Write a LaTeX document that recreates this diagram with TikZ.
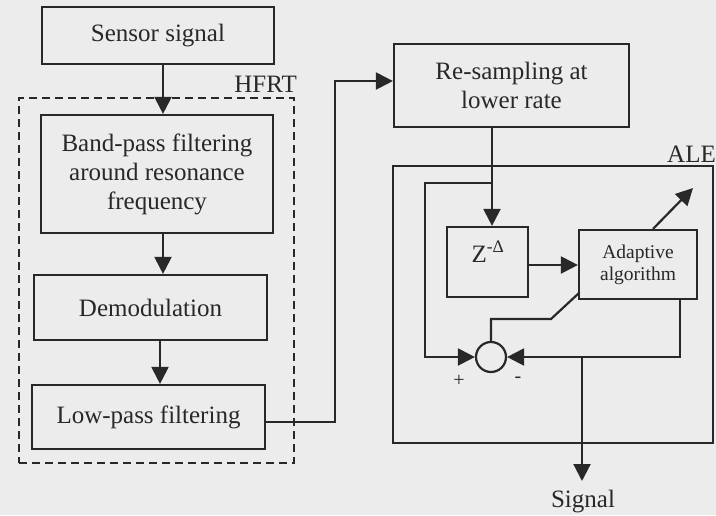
\documentclass[tikz,border=0pt]{standalone}
\usepackage{fontspec}
\setmainfont{Liberation Serif}
\usetikzlibrary{arrows.meta,calc}
\definecolor{bg}{RGB}{236,236,236}
\definecolor{ink}{RGB}{40,40,40}
\begin{document}
\begin{tikzpicture}[x=1pt,y=-1pt,
  box/.style={draw=ink,line width=2.2pt,rectangle,inner sep=0pt,align=center,text=ink,
    font=\fontsize{25}{29}\selectfont},
  small/.style={draw=ink,line width=2.2pt,rectangle,inner sep=0pt,align=center,text=ink,
    font=\fontsize{19.5}{22}\selectfont},
  lbl/.style={text=ink,inner sep=0pt,font=\fontsize{25}{29}\selectfont},
  wire/.style={draw=ink,line width=2.2pt},
  arr/.style={wire,-{Triangle[length=17pt,width=17pt]}},
  frame/.style={draw=ink,line width=2.2pt},
  dashbox/.style={draw=ink,line width=2.2pt,dash pattern=on 8pt off 5pt}
]
\fill[bg] (0,0) rectangle (716,515);
\useasboundingbox (0,0) rectangle (716,515);

% left column
\node[box,minimum width=232pt,minimum height=57pt] (sensor) at (158,35.5) {Sensor signal};
\node[box,minimum width=232pt,minimum height=118pt] (bp) at (157,174) {Band-pass filtering\\around resonance\\frequency};
\node[box,minimum width=233pt,minimum height=65pt] (demod) at (150.5,307.5) {Demodulation};
\node[box,minimum width=233pt,minimum height=64pt] (lp) at (148.5,417) {Low-pass filtering};
\node[dashbox,rectangle,minimum width=275pt,minimum height=365pt,inner sep=0pt] (hfrt) at (156.5,280.5) {};
\node[lbl,anchor=base east] (hfrtl) at (297,92) {HFRT};

% right column
\node[box,minimum width=235pt,minimum height=83pt] (rs) at (511.5,85.5) {Re-sampling at\\lower rate};
\node[frame,rectangle,minimum width=320pt,minimum height=277pt,inner sep=0pt] (ale) at (553,304.5) {};
\node[lbl,anchor=base east] (alel) at (716,162) {ALE};
\node[draw=ink,line width=2.2pt,rectangle,minimum width=81pt,minimum height=70pt,inner sep=0pt] (z) at (487.5,262) {};
\node[lbl,anchor=base] (zl) at (488,262) {Z\textsuperscript{-Δ}};
\node[small,minimum width=118pt,minimum height=69pt] (ad) at (638,264.5) {Adaptive\\algorithm};
\node[draw=ink,line width=2.2pt,circle,minimum size=30pt,inner sep=0pt] (sum) at (491,357) {};
\node[text=ink,inner sep=0pt,font=\fontsize{20}{22}\selectfont] (plus) at (459,381) {+};
\node[text=ink,inner sep=0pt,font=\fontsize{20}{22}\selectfont] (minus) at (518,380) {-};
\node[lbl,anchor=base] (sig) at (583,507) {Signal};

% helper coordinates
\coordinate (a1) at (163,0);
\coordinate (a2) at (160,0);
\coordinate (c1) at (335,422);
\coordinate (c2) at (335,81);
\coordinate (zx) at (492,0);
\coordinate (br) at (492,183);
\coordinate (bl) at (425,183);
\coordinate (d1) at (579,293);
\coordinate (d2) at (551,319);
\coordinate (d3) at (491,319);
\coordinate (up) at (693,188);
\coordinate (ax) at (653,0);
\coordinate (fx) at (680,0);
\coordinate (so) at (582,357);
\coordinate (sigend) at (582,481);

% left arrows
\draw[arr] (sensor.south -| a1) -- (bp.north -| a1);
\draw[arr] (bp.south -| a1) -- (demod.north -| a1);
\draw[arr] (demod.south -| a2) -- (lp.north -| a2);
\draw[arr] (lp.east |- c1) -- (c1) -- (c2) -- (rs.west |- c2);

% right arrows
\draw[arr] (rs.south -| zx) -- (z.north -| zx);
\draw[arr] (br) -- (bl) -- (bl |- sum.west) -- (sum.west);
\draw[arr] (z.east |- 0,265) -- (ad.west |- 0,265);
\draw[wire] (d1) -- (d2) -- (d3) -- (sum.north);
\draw[arr] (ad.north -| ax) -- (up);
\draw[arr] (ad.south -| fx) -- (fx |- sum.east) -- (sum.east);
\draw[arr] (so) -- (sigend);
\end{tikzpicture}
\end{document}
